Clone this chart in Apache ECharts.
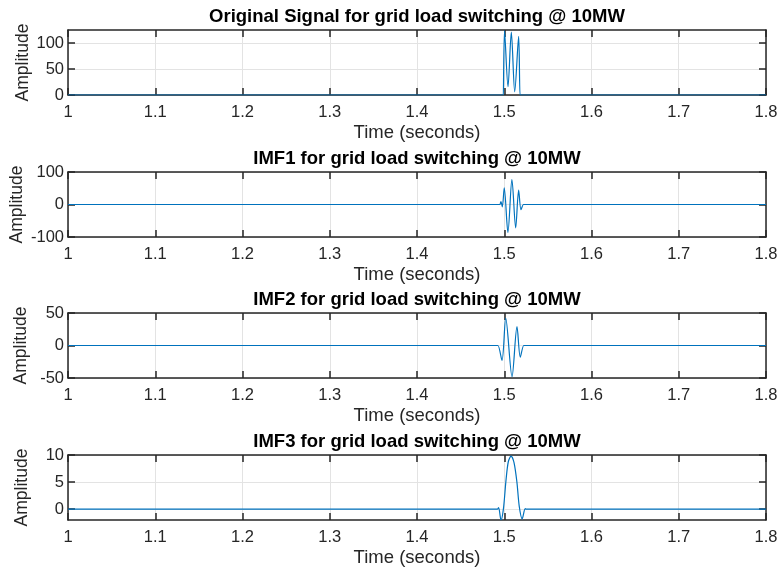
<!DOCTYPE html>
<html>
<head>
<meta charset="utf-8">
<script src="https://cdn.jsdelivr.net/npm/echarts@6/dist/echarts.min.js"></script>
<style>
  html, body { margin: 0; padding: 0; background: #fff; }
  #chart { width: 779px; height: 572px; }
</style>
</head>
<body>
<div id="chart"></div>
<script>
const timeTicks = [1, 1.1, 1.2, 1.3, 1.4, 1.5, 1.6, 1.7, 1.8];

const panelTitles = [
    'Original Signal for grid load switching @ 10MW',
    'IMF1 for grid load switching @ 10MW',
    'IMF2 for grid load switching @ 10MW',
    'IMF3 for grid load switching @ 10MW'
];

// values (seconds, amplitude)
const origTime = [1.0, 1.4990, 1.4995, 1.5003, 1.5043, 1.5081, 1.5120, 1.5165, 1.5181, 1.5190, 1.8];
const origAmp = [0, 0, 0, 124, 16, 121, 6, 113, 0, 0, 0];

const imf1Time = [1.0, 1.4940, 1.4950, 1.4962, 1.4978, 1.5000, 1.5042, 1.5088, 1.5131, 1.5165, 1.5192, 1.5220, 1.5230, 1.8];
const imf1Amp = [0, 0, 0, 9, -7, 51, -86, 77, -72, 44, -16, 0, 0, 0];

const imf2Time = [1.0, 1.4915, 1.4928, 1.4974, 1.5017, 1.5089, 1.5146, 1.5184, 1.5223, 1.5235, 1.8];
const imf2Amp = [0, 0, 0, -23, 42, -48, 29, -18, 0, 0, 0];

const imf3Time = [1.0, 1.4920, 1.4935, 1.4963, 1.4990, 1.5021, 1.5047, 1.5078, 1.5112, 1.5145, 1.5172, 1.5205, 1.5240, 1.5250, 1.8];
const imf3Amp = [0, 0, 0.3, -2, 0, 5.5, 8.8, 9.8, 8.6, 5, 0.5, -1.8, 0.1, 0, 0];

const yLimits = [[0, 125], [-100, 100], [-50, 50], [-2, 10]];
const yTicks = [[0, 50, 100], [-100, 0, 100], [-50, 0, 50], [0, 5, 10]];

const panels = [
    [origTime, origAmp],
    [imf1Time, imf1Amp],
    [imf2Time, imf2Amp],
    [imf3Time, imf3Amp]
];

const gridTops = [30, 172, 313, 455];
const gridHeight = 65;
const yNameGaps = [36, 42, 38, 37];
const axisColor = '#262626';
const font = 'Liberation Sans, Arial, Helvetica, sans-serif';

const chart = echarts.init(document.getElementById('chart'));

const grids = [], xAxes = [], yAxes = [], titles = [], series = [];

panels.forEach(([t, v], i) => {
    grids.push({
        left: 68, width: 698, top: gridTops[i], height: gridHeight,
        containLabel: false, outerBoundsMode: 'none'
    });

    titles.push({
        text: panelTitles[i],
        left: 417,
        textAlign: 'center',
        top: gridTops[i] - 23,
        padding: 0,
        textStyle: { fontFamily: font, fontSize: 18.5, fontWeight: 'bold', color: '#000' }
    });

    const lineStyle = { color: axisColor, width: 1.5 };
    // bottom and top x axes
    xAxes.push({
        type: 'value', gridIndex: i, min: 1, max: 1.8, interval: 0.1,
        position: 'bottom',
        name: 'Time (seconds)', nameLocation: 'middle', nameGap: 28,
        nameMoveOverlap: false,
        nameTextStyle: { fontFamily: font, fontSize: 18.5, color: axisColor },
        axisLine: { show: true, onZero: false, lineStyle },
        axisTick: { show: true, inside: true, length: 7, lineStyle, customValues: timeTicks },
        axisLabel: { fontFamily: font, fontSize: 16.5, color: axisColor, margin: 9, customValues: timeTicks },
        splitLine: { show: true, lineStyle: { color: '#e3e3e3', width: 1 } }
    });
    xAxes.push({
        type: 'value', gridIndex: i, min: 1, max: 1.8, interval: 0.1,
        position: 'top',
        axisLine: { show: true, onZero: false, lineStyle },
        axisTick: { show: true, inside: true, length: 7, lineStyle, customValues: timeTicks },
        axisLabel: { show: false },
        splitLine: { show: false }
    });
    // left and right y axes
    yAxes.push({
        type: 'value', gridIndex: i, min: yLimits[i][0], max: yLimits[i][1],
        position: 'left',
        name: 'Amplitude', nameLocation: 'middle', nameGap: yNameGaps[i],
        nameMoveOverlap: false,
        nameTextStyle: { fontFamily: font, fontSize: 17.5, color: axisColor },
        axisLine: { show: true, onZero: false, lineStyle },
        axisTick: { show: true, inside: true, length: 7, lineStyle, customValues: yTicks[i] },
        axisLabel: { fontFamily: font, fontSize: 16.5, color: axisColor, margin: 4, customValues: yTicks[i] },
        splitLine: { show: true, lineStyle: { color: '#e3e3e3', width: 1 } }
    });
    yAxes.push({
        type: 'value', gridIndex: i, min: yLimits[i][0], max: yLimits[i][1],
        position: 'right',
        axisLine: { show: true, onZero: false, lineStyle },
        axisTick: { show: true, inside: true, length: 7, lineStyle, customValues: yTicks[i] },
        axisLabel: { show: false },
        splitLine: { show: false }
    });

    series.push({
        type: 'line',
        xAxisIndex: 2 * i,
        yAxisIndex: 2 * i,
        data: t.map((x, k) => [x, v[k]]),
        showSymbol: false,
        smooth: 0.3,
        lineStyle: { color: '#0072BD', width: 1.2 },
        z: 5
    });
});

chart.setOption({
    animation: false,
    title: titles,
    grid: grids,
    xAxis: xAxes,
    yAxis: yAxes,
    series: series
});
</script>
</body>
</html>
